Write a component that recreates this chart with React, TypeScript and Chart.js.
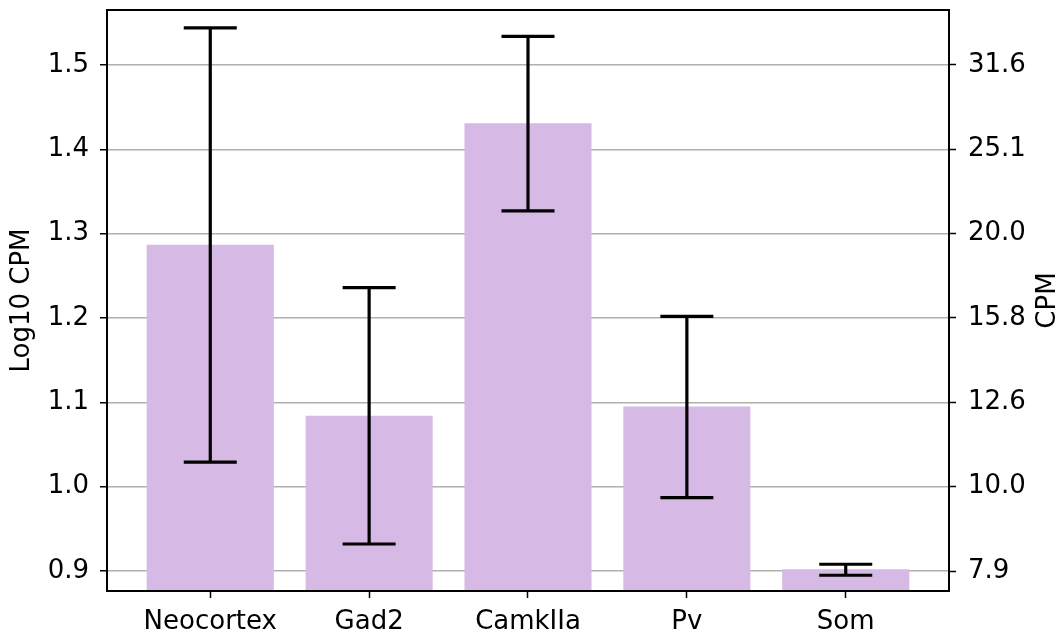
import React, { useEffect, useRef } from "react";
import { Chart, registerables } from "chart.js";

Chart.register(...registerables);

const categories = ["Neocortex", "Gad2", "CamkIIa", "Pv", "Som"];
const meanLog = [1.287, 1.084, 1.431, 1.095, 0.902];
const errLow = [1.029, 0.932, 1.327, 0.987, 0.895];
const errHigh = [1.544, 1.236, 1.534, 1.202, 0.908];
const leftTicks = [0.9, 1.0, 1.1, 1.2, 1.3, 1.4, 1.5];

const Y_MIN = 0.8763;
const Y_MAX = 1.5652;
const FONT = "'DejaVu Sans', sans-serif";
const FS = 26;

export default function App() {
  const ref = useRef<HTMLCanvasElement>(null);

  useEffect(() => {
    const canvas = ref.current;
    if (!canvas) return;

    const overlay = {
      id: "overlay",
      afterDraw(chart: any) {
        const ctx = chart.ctx;
        const x = chart.scales.x;
        const y = chart.scales.y;
        ctx.save();
        ctx.strokeStyle = "#000";
        ctx.lineWidth = 3.2;
        for (let i = 0; i < categories.length; i++) {
          const cx = x.getPixelForValue(i);
          const yl = y.getPixelForValue(errLow[i]);
          const yh = y.getPixelForValue(errHigh[i]);
          ctx.beginPath();
          ctx.moveTo(cx, yl);
          ctx.lineTo(cx, yh);
          ctx.moveTo(cx - 26.5, yl);
          ctx.lineTo(cx + 26.5, yl);
          ctx.moveTo(cx - 26.5, yh);
          ctx.lineTo(cx + 26.5, yh);
          ctx.stroke();
        }
        const a = chart.chartArea;
        ctx.lineWidth = 2;
        ctx.strokeRect(a.left, a.top, a.right - a.left, a.bottom - a.top);
        // right axis title, reading bottom-to-top
        ctx.fillStyle = "#000";
        ctx.font = `${FS}px ${FONT}`;
        ctx.textAlign = "center";
        ctx.textBaseline = "middle";
        ctx.translate(1048, (a.top + a.bottom) / 2);
        ctx.rotate(-Math.PI / 2);
        ctx.fillText("CPM", 0, 0);
        ctx.restore();
      },
    };

    const zeroPad = (s: any) => {
      s.paddingTop = 0;
      s.paddingBottom = 0;
      s.paddingLeft = 0;
      s.paddingRight = 0;
    };

    const chart = new Chart(canvas, {
      type: "bar",
      data: {
        datasets: [
          {
            data: meanLog.map((v, i) => ({ x: i, y: v })),
            backgroundColor: "#d6b9e5",
            borderWidth: 0,
            categoryPercentage: 1,
            barPercentage: 0.8,
          },
        ],
      },
      options: {
        animation: false,
        responsive: false,
        layout: { padding: { top: 10, left: 0, right: 0, bottom: 0 } },
        plugins: {
          legend: { display: false },
          tooltip: { enabled: false },
        },
        scales: {
          x: {
            type: "linear",
            min: -0.65,
            max: 4.65,
            offset: false,
            z: 1,
            afterBuildTicks: (s: any) => {
              s.ticks = categories.map((_, i) => ({ value: i }));
            },
            afterFit: (s: any) => {
              s.height = 43;
              zeroPad(s);
            },
            grid: {
              offset: false,
              drawOnChartArea: false,
              drawTicks: true,
              tickColor: "#000",
              tickLength: 7,
              tickWidth: 1.5,
            },
            border: { display: false },
            ticks: {
              autoSkip: false,
              maxRotation: 0,
              padding: 9,
              color: "#000",
              font: { family: FONT, size: FS },
              callback: (v: any) => categories[Math.round(Number(v))] ?? "",
            },
          },
          y: {
            type: "linear",
            position: "left",
            min: Y_MIN,
            max: Y_MAX,
            z: 1,
            afterBuildTicks: (s: any) => {
              s.ticks = leftTicks.map((v) => ({ value: v }));
            },
            afterFit: (s: any) => {
              s.width = 107;
              zeroPad(s);
            },
            grid: {
              color: "#b0b0b0",
              lineWidth: 1.5,
              tickColor: "#000",
              tickLength: 7,
              tickWidth: 1.5,
            },
            border: { display: false },
            ticks: {
              padding: 11,
              color: "#000",
              font: { family: FONT, size: FS },
              callback: (v: any) => Number(v).toFixed(1),
            },
            title: {
              display: true,
              text: "Log10 CPM",
              color: "#000",
              font: { family: FONT, size: FS },
              padding: { top: 7, bottom: 4 },
            },
          },
          y2: {
            type: "linear",
            position: "right",
            min: Y_MIN,
            max: Y_MAX,
            z: 1,
            afterBuildTicks: (s: any) => {
              s.ticks = leftTicks.map((v) => ({ value: v }));
            },
            afterFit: (s: any) => {
              s.width = 113;
              zeroPad(s);
            },
            grid: {
              drawOnChartArea: false,
              tickColor: "#000",
              tickLength: 7,
              tickWidth: 1.5,
            },
            border: { display: false },
            ticks: {
              padding: 12,
              color: "#000",
              font: { family: FONT, size: FS },
              callback: (v: any) => Math.pow(10, Number(v)).toFixed(1),
            },
          },
        },
      },
      plugins: [overlay],
    } as any);

    return () => chart.destroy();
  }, []);

  return (
    <div style={{ position: "fixed", left: 0, top: 0, width: 1062, height: 634, background: "#fff" }}>
      <canvas ref={ref} width={1062} height={634} style={{ display: "block" }} />
    </div>
  );
}
